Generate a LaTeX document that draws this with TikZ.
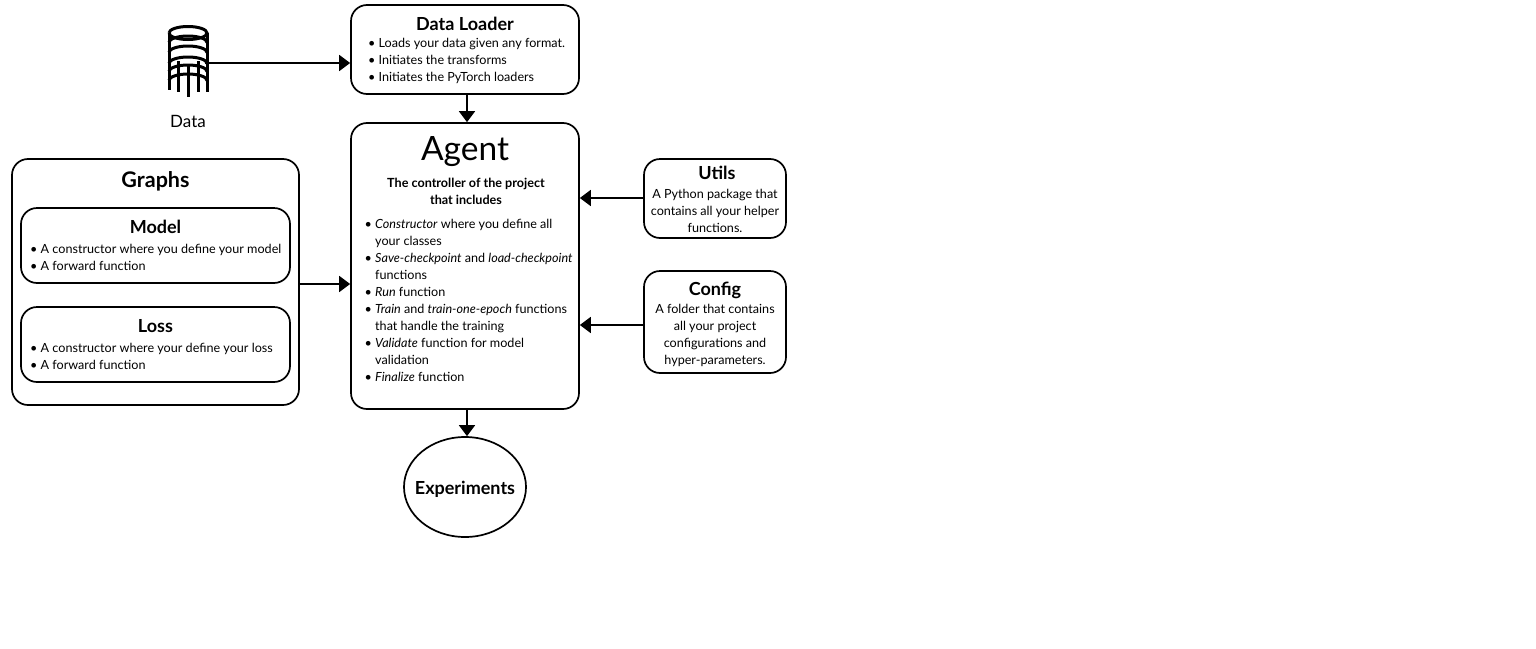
\documentclass[tikz,border=0pt]{standalone}
\usepackage{fontspec}
\setmainfont{Lato}
\usetikzlibrary{arrows.meta,positioning,shapes.geometric}
\tikzset{
box/.style={draw,line width=1.7pt,rounded corners=16pt,inner sep=0pt},
flow/.style={-{Triangle[length=11pt,width=16pt]},line width=1.8pt},
body/.style={font=\fontsize{12.6}{17}\selectfont,inner sep=0pt},
heading/.style={font=\fontsize{18}{22}\selectfont\bfseries},
icon line/.style={line width=3pt},
}
\newcommand{\itm}{\makebox[10.5pt][l]{\textbullet}}
\newcommand{\con}{\hspace*{10.5pt}}
\begin{document}
\begin{tikzpicture}[x=1pt,y=-1pt]
\useasboundingbox (0,0) rectangle (1536,648);
% boxes
\node[box,minimum width=228pt,minimum height=89pt] (loader) at (465,49.5) {};
\node[box,minimum width=228pt,minimum height=286pt] (agent) at (465,266) {};
\node[box,minimum width=287pt,minimum height=246pt] (graphs) at (155.5,282) {};
\node[box,minimum width=269pt,minimum height=75pt] (model) at (155.5,245.5) {};
\node[box,minimum width=269pt,minimum height=75pt] (loss) at (155.5,344.5) {};
\node[box,minimum width=142pt,minimum height=79pt] (utils) at (715,198.5) {};
\node[box,minimum width=142pt,minimum height=102pt] (config) at (715,322) {};
\node[draw,ellipse,line width=1.7pt,minimum width=122pt,minimum height=100pt,inner sep=0pt] (experiments) at (465,487) {};
% titles
\node[heading] (loadertitle) at (465,24) {Data Loader};
\node[font=\fontsize{33.5}{40}\selectfont] (agenttitle) at (465,152) {Agent};
\node[font=\fontsize{21.5}{24}\selectfont\bfseries] (graphstitle) at (155.5,181) {Graphs};
\node[heading] (modeltitle) at (155.5,227) {Model};
\node[heading] (losstitle) at (155.5,326.5) {Loss};
\node[heading] (utilstitle) at (717,173) {Utils};
\node[heading] (configtitle) at (715,290) {Config};
\node[heading] (experimentstitle) at (465,489) {Experiments};
% texts
\node[body,align=left,anchor=north west] (loadertext) at (368,38) {\itm Loads your data given any format.\\\itm Initiates the transforms\\\itm Initiates the PyTorch loaders};
\node[body,align=center,font=\fontsize{12.6}{17}\selectfont\bfseries] (agenthead) at (466,191.5) {The controller of the project\\that includes};
\node[body,align=left,anchor=north west] (agenttext) at (364.5,219) {\itm\textit{Constructor} where you define all\\\con your classes\\\itm\textit{Save-checkpoint} and \textit{load-checkpoint}\\\con functions\\\itm\textit{Run} function\\\itm\textit{Train} and \textit{train-one-epoch} functions\\\con that handle the training\\\itm\textit{Validate} function for model\\\con validation\\\itm\textit{Finalize} function};
\node[body,align=left,anchor=north west] (modeltext) at (30,244) {\itm A constructor where you define your model\\\itm A forward function};
\node[body,align=left,anchor=north west] (losstext) at (30,343) {\itm A constructor where your define your loss\\\itm A forward function};
\node[body,align=center] (utilstext) at (715,211) {A Python package that\\contains all your helper\\functions.};
\node[body,align=center] (configtext) at (715,335) {A folder that contains\\all your project\\configurations and\\hyper-parameters.};
\node[font=\fontsize{17}{20}\selectfont] (datalabel) at (188,121) {Data};
% database icon
\coordinate (icon) at (205,63);
\draw[icon line] (169,33) arc[start angle=180,end angle=-180,x radius=19,y radius=6.5];
\foreach \yy in {49,59,70,78,87}
  \draw[icon line] (169,\yy-6.5) arc[start angle=180,end angle=360,x radius=19,y radius=6.5];
\draw[icon line] (169,33) -- (169,90) (207,33) -- (207,92);
\draw[icon line] (178,61) -- (178,92) (198,61) -- (198,92) (188,66) -- (188,97);
% connectors
\draw[flow] (icon) -- (icon -| loader.west);
\draw[flow] ([xshift=2pt]loader.south) -- ([xshift=2pt]agent.north);
\draw[flow] ([yshift=-2pt]graphs.east) -- ([yshift=-2pt]graphs.east -| agent.west);
\draw[flow] ([yshift=.5pt]utils.west) -- ([yshift=.5pt]utils.west -| agent.east);
\draw[flow] ([yshift=-3pt]config.west) -- ([yshift=-3pt]config.west -| agent.east);
\draw[flow] ([xshift=2pt]agent.south) -- ([xshift=2pt]experiments.north);
\end{tikzpicture}
\end{document}
